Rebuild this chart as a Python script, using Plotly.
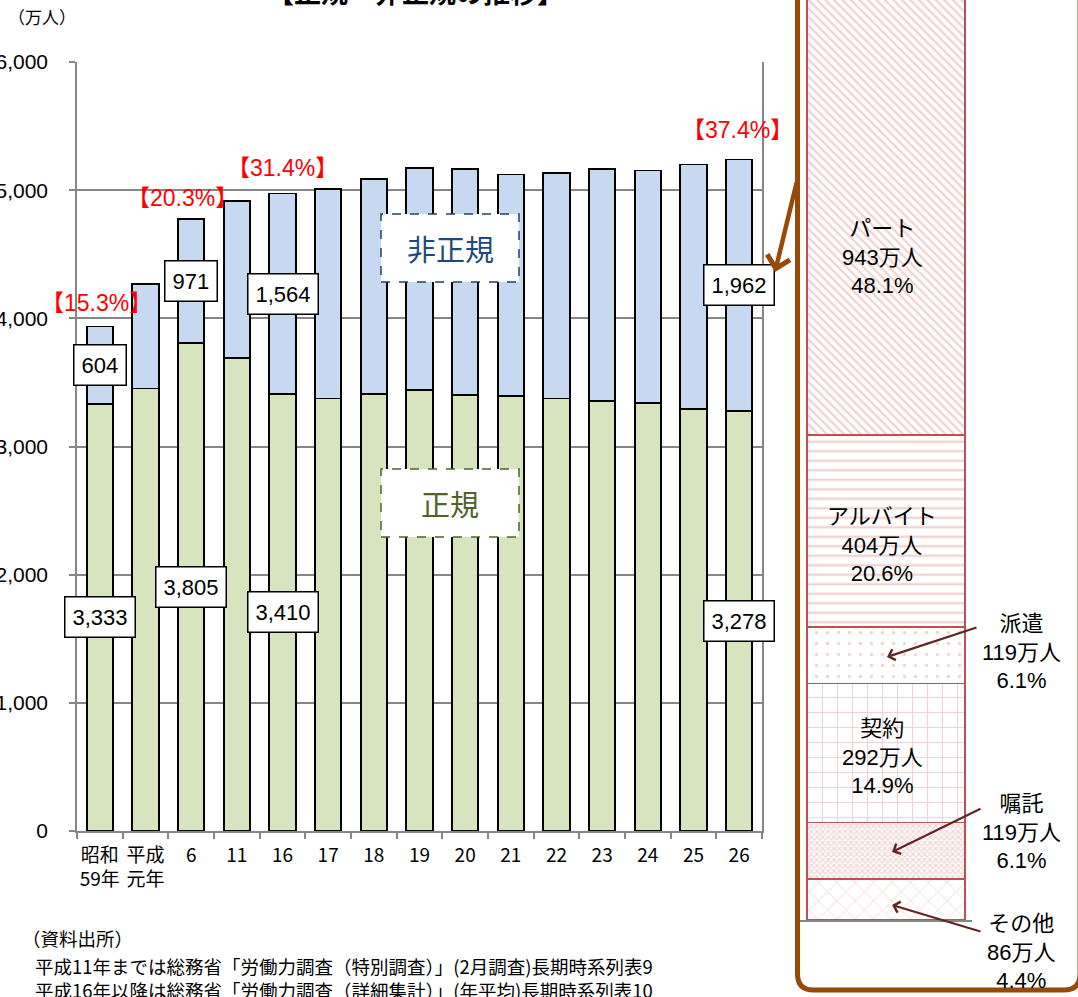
import plotly.graph_objects as go

W, H = 1078, 997

# ---------------- data ----------------
categories = ["昭和<br>59年", "平成<br>元年", "6", "11", "16", "17", "18", "19",
              "20", "21", "22", "23", "24", "25", "26"]
regular = [3333, 3452, 3805, 3688, 3410, 3374, 3411, 3441, 3399, 3395, 3374, 3352, 3340, 3294, 3278]
nonregular = [604, 817, 971, 1225, 1564, 1633, 1678, 1735, 1765, 1727, 1763, 1811, 1813, 1906, 1962]
labeled_idx = [0, 2, 4, 14]

# breakdown of non-regular (latest year), listed bottom -> top
parts = ["その他", "嘱託", "契約", "派遣", "アルバイト", "パート"]
part_values = [86, 119, 292, 119, 404, 943]
part_total = 1962

source_lines = [
    "（資料出所）",
    "平成11年までは総務省「労働力調査（特別調査）」(2月調査)長期時系列表9",
    "平成16年以降は総務省「労働力調査（詳細集計）」(年平均)長期時系列表10",
]

JP = "Noto Sans CJK JP"
NUM = "Liberation Sans, Arial, Noto Sans CJK JP"
GRID = "#868686"


def px(xp):
    return xp / W


def py(yp):
    return 1 - yp / H


fig = go.Figure()

# ---------------- main stacked bars ----------------
fig.add_trace(go.Bar(x=categories, y=regular, name="正規",
                     marker=dict(color="#D7E4BD", line=dict(color="black", width=1.8))))
fig.add_trace(go.Bar(x=categories, y=nonregular, name="非正規",
                     marker=dict(color="#C6D9F1", line=dict(color="black", width=1.8))))

# ---------------- breakdown bar ----------------
patterns = {
    "その他": dict(shape="x", size=13, solidity=0.12),
    "嘱託": dict(shape="x", size=4, solidity=0.5),
    "契約": dict(shape="+", size=15, solidity=0.14),
    "派遣": dict(shape=".", size=11, solidity=0.07),
    "アルバイト": dict(shape="-", size=9.5, solidity=0.25),
    "パート": dict(shape="\\", size=6, solidity=0.4),
}
for name, val in zip(parts, part_values):
    pat = patterns[name]
    fig.add_trace(go.Bar(
        x=[0], y=[val], width=0.919, xaxis="x2", yaxis="y2", name=name,
        marker=dict(color="white",
                    pattern=dict(shape=pat["shape"], size=pat["size"], solidity=pat["solidity"],
                                 fgcolor="#E2A9A8", fillmode="overlay"),
                    line=dict(color="#C0504D", width=1.5)),
    ))

annotations = []


def note(x, y, text, font, xanchor="center", yanchor="middle", **kw):
    d = dict(x=x, y=y, text=text, showarrow=False, font=font,
             xanchor=xanchor, yanchor=yanchor)
    d.setdefault("xref", "paper")
    d.setdefault("yref", "paper")
    d.update(kw)
    annotations.append(d)


# value boxes (category axis positions are indices)
for i in labeled_idx:
    for yv, val in ((regular[i] / 2, regular[i]), (regular[i] + nonregular[i] / 2, nonregular[i])):
        note(i, yv, f"{val:,}", dict(family=NUM, size=22, color="black"),
             xref="x", yref="y", bgcolor="white", bordercolor="black",
             borderwidth=1.5, borderpad=7)

# red percentage labels
pct_shift = {0: (-3, 23), 2: (-9, 21), 4: (0, 25), 14: (-2, 29)}
for i in labeled_idx:
    tot = regular[i] + nonregular[i]
    pct = nonregular[i] / tot * 100
    dx, dy = pct_shift[i]
    note(i, tot, f"【{pct:.1f}%】", dict(family=NUM, size=23, color="#FF0000"),
         xref="x", yref="y", xshift=dx, yshift=dy)

# series name boxes
note(px(450), py(248), "非正規", dict(family=JP, size=29, color="#1F497D"))
note(px(450), py(503), "正規", dict(family=JP, size=29, color="#4F6228"))

# title (cut off at top) and unit
note(px(415), py(-9), "<b>【正規・非正規の推移】</b>", dict(family=JP, size=27, color="black"))
note(px(42), py(17), "（万人）", dict(family=JP, size=17, color="black"))

# source
src_pos = [(20, 938), (33, 966), (33, 990)]
for (sx, sy), t in zip(src_pos, source_lines):
    note(px(sx), py(sy), t, dict(family=JP, size=18.5, color="black"), xanchor="left")

# breakdown labels
label_pos = {
    "パート": (882, 257),
    "アルバイト": (882, 545),
    "契約": (882, 757),
    "派遣": (1021, 652),
    "嘱託": (1021, 832),
    "その他": (1021, 952),
}
for name, val in zip(parts, part_values):
    lx, ly = label_pos[name]
    note(px(lx), py(ly), f"{name}<br>{val}万人<br>{val / part_total * 100:.1f}%",
         dict(family=NUM, size=22, color="black"))

# arrows
arrow_specs = [
    # head(x,y), tail(x,y), color, width
    ((775, 272), (797, 181), "#984807", 4.5),
    ((887, 657), (978, 627), "#632523", 2.2),
    ((892, 852), (982, 808), "#632523", 2.2),
    ((892, 905), (982, 932), "#632523", 2.2),
]
for (hx, hy), (tx, ty), col, wd in arrow_specs:
    annotations.append(dict(x=px(hx), y=py(hy), xref="paper", yref="paper", text="",
                            showarrow=True, ax=tx - hx, ay=ty - hy, axref="pixel", ayref="pixel",
                            arrowhead=4, arrowsize=1.0, arrowwidth=wd, arrowcolor=col,
                            standoff=0, startstandoff=0))

shapes = [
    dict(type="rect", xref="paper", yref="paper", x0=px(381), x1=px(519), y0=py(282), y1=py(214),
         fillcolor="white", line=dict(color="#254061", width=1.5, dash="dash"), layer="above"),
    dict(type="rect", xref="paper", yref="paper", x0=px(381), x1=px(519), y0=py(537), y1=py(469),
         fillcolor="white", line=dict(color="#4F6228", width=1.5, dash="dash"), layer="above"),
]
# rounded brown panel
path = (f"M{px(797.5)},{py(-20)} L{px(797.5)},{py(974)} "
        f"Q{px(797.5)},{py(990)} {px(813.5)},{py(990)} "
        f"L{px(1064)},{py(990)} Q{px(1080)},{py(990)} {px(1080)},{py(974)} "
        f"L{px(1080)},{py(-20)}")
shapes.append(dict(type="path", xref="paper", yref="paper", path=path,
                   line=dict(color="#984807", width=5), layer="above"))

px_per_unit = 0.4755

fig.update_layout(
    width=W, height=H,
    margin=dict(l=0, r=0, t=0, b=0, autoexpand=False),
    paper_bgcolor="white", plot_bgcolor="white",
    barmode="stack", bargap=0.424, showlegend=False,
    xaxis=dict(domain=[px(77), px(762)], type="category", showline=True, linecolor=GRID,
               linewidth=1.5, ticks="outside", tickson="boundaries", ticklen=6, tickcolor=GRID,
               tickwidth=1.5, showgrid=False, ticklabelstandoff=6, tickangle=0,
               range=[-0.5, len(categories) - 0.5],
               tickfont=dict(family=JP, size=19, color="black"), anchor="y"),
    yaxis=dict(domain=[py(831), py(62)], range=[0, 6000], dtick=1000, tickformat=",d",
               showgrid=True, gridcolor=GRID, gridwidth=1.5, showline=True, linecolor=GRID,
               linewidth=1.5, mirror=True, ticks="outside", ticklen=6, tickcolor=GRID,
               tickwidth=1.5, zeroline=False, ticklabelstandoff=17,
               tickfont=dict(family=NUM, size=21, color="black"), anchor="x"),
    xaxis2=dict(domain=[px(800), px(972)], range=[-0.5, 0.5], anchor="y2", showline=True,
                linecolor=GRID, linewidth=1.5, showticklabels=False, ticks="", showgrid=False,
                zeroline=False),
    yaxis2=dict(domain=[py(920), 1], range=[0, 920 / px_per_unit], anchor="x2", visible=False),
    annotations=annotations,
    shapes=shapes,
)

fig.write_html("out.html")
